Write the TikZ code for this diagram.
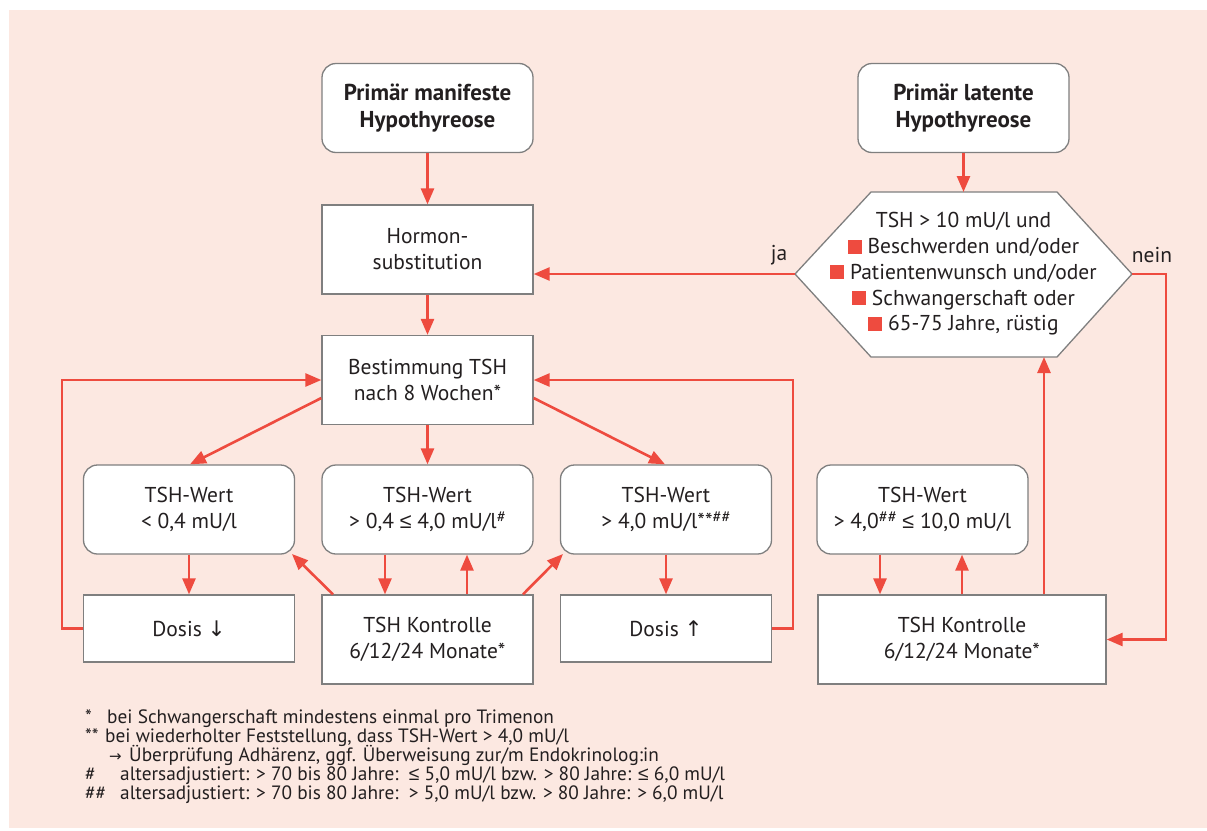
\documentclass[tikz,border=0pt]{standalone}
\usepackage{fontspec}
\setmainfont{PT Sans}
\newfontfamily\symfont{Liberation Sans}
\newfontfamily\arrfont{DejaVu Sans}
\newcommand{\mle}{{\symfont ≤}}
\newcommand{\mdown}{{\arrfont ↓}}
\newcommand{\mup}{{\arrfont ↑}}
\newcommand{\mright}{{\arrfont\fontsize{15}{15}\selectfont →}}
\newcommand{\hsup}[1]{\raisebox{6pt}{\fontsize{16.5}{16.5}\selectfont #1}}
\usetikzlibrary{arrows.meta}
\definecolor{bg}{HTML}{FCE8E1}
\definecolor{ared}{HTML}{EE4B3F}
\definecolor{bgrey}{HTML}{7F7F7F}
\definecolor{txt}{HTML}{231F20}
\newcommand{\sq}{\textcolor{ared}{\rule{14pt}{14pt}}\ }
\tikzset{
  base/.style={draw=bgrey, line width=1.3pt, fill=white, inner sep=0pt, align=center,
    text=txt, font=\fontsize{21.5}{26}\selectfont},
  rbox/.style={base, rounded corners=14pt, minimum width=211pt, minimum height=89pt},
  sbox/.style={base, minimum width=211pt, minimum height=89pt},
  arr/.style={draw=ared, line width=2.6pt, -{Triangle[length=16pt,width=13pt]}},
  lbl/.style={text=txt, font=\fontsize{21.5}{24}\selectfont, inner sep=0pt},
  note/.style={text=txt, font=\fontsize{19.3}{19}\selectfont, anchor=base west, inner sep=0pt}
}
\begin{document}
\begin{tikzpicture}[x=1pt,y=-1pt]
\useasboundingbox (0,0) rectangle (1207,830);
\fill[bg] (9,10) rectangle (1207,828);

% nodes
\node[rbox, font=\bfseries\fontsize{23}{26.5}\selectfont] (man) at (427.5,108) {Primär manifeste\\Hypothyreose};
\node[rbox, font=\bfseries\fontsize{23}{26.5}\selectfont] (lat) at (963.5,108) {Primär latente\\Hypothyreose};
\node[sbox] (hormon) at (427.5,249.5) {Hormon-\\substitution};
\node[sbox] (best) at (427.5,380) {Bestimmung TSH\\nach 8 Wochen*};
\node[rbox] (w1) at (189,509.5) {TSH-Wert\\< 0,4 mU/l};
\node[rbox] (w2) at (427.5,509.5) {TSH-Wert\\> 0,4 \mle{} 4,0 mU/l\hsup{\#}};
\node[rbox] (w3) at (666,509.5) {TSH-Wert\\> 4,0 mU/l**\hsup{\#\#}};
\node[sbox, minimum height=67pt] (d1) at (189,628.5) {Dosis \mdown};
\node[sbox] (k1) at (427.5,639.5) {TSH Kontrolle\\6/12/24 Monate*};
\node[sbox, minimum height=67pt] (d2) at (666,628.5) {Dosis \mup};
\node[rbox] (w4) at (922.5,509.5) {TSH-Wert\\> 4,0\hsup{\#\#} \mle{} 10,0 mU/l};
\node[sbox, minimum width=288pt] (k2) at (962,639.5) {TSH Kontrolle\\6/12/24 Monate*};

% hexagon
\coordinate (hW) at (795,274);
\coordinate (hE) at (1132,274);
\draw[draw=bgrey, line width=1.3pt, fill=white] (hW) -- (871,192) -- (1057,192) -- (hE) -- (1057,357) -- (871,357) -- cycle;
\coordinate (hN) at (963.5,192);
\coordinate (hS2) at (1044,357);
\node[lbl, align=center, font=\fontsize{21.5}{25.8}\selectfont] (hex) at (963.5,274) {TSH > 10 mU/l und\\\sq Beschwerden und/oder\\\sq Patientenwunsch und/oder\\\sq Schwangerschaft oder\\\sq 65-75 Jahre, rüstig};

\node[lbl] (ja) at (779,255) {ja};
\node[lbl] (nein) at (1152,255) {nein};

% connectors
\draw[arr] (man) -- (hormon);
\draw[arr] (hormon) -- (best);
\draw[arr] (lat) -- (hN);
\draw[arr] (hW) -- (hW -| hormon.east);
\coordinate (eR) at (1166,274);
\draw[arr] (hE) -- (eR) -- (eR |- k2.east) -- (k2.east);
\draw[arr] (k2.north -| hS2) -- (hS2);
\draw[arr] (w4.south -| 880,0) -- (k2.north -| 880,0);
\draw[arr] (k2.north -| 962,0) -- (w4.south -| 962,0);

\draw[arr] (best.south west |- 0,398) -- (w1.north -| 190,0);
\draw[arr] (best) -- (w2);
\draw[arr] (best.south east |- 0,398) -- (w3.north -| 665,0);
\draw[arr] (w1) -- (d1);
\draw[arr] (w3) -- (d2);
\coordinate (lL) at (62,380);
\coordinate (rL) at (793,380);
\draw[arr] (d1.west) -- (d1.west -| lL) -- (lL) -- (best.west);
\draw[arr] (d2.east) -- (d2.east -| rL) -- (rL) -- (best.east);
\draw[arr] (k1.north -| 333,0) -- (292,554);
\draw[arr] (k1.north -| 523,0) -- (563,554);
\draw[arr] (w2.south -| 385,0) -- (k1.north -| 385,0);
\draw[arr] (k1.north -| 467,0) -- (w2.south -| 467,0);

% footnotes
\node[note] (n1m) at (85,723) {*};
\node[note] (n1) at (107,723) {bei Schwangerschaft mindestens einmal pro Trimenon};
\node[note] (n2m) at (85,742) {**};
\node[note] (n2) at (105,742) {bei wiederholter Feststellung, dass TSH-Wert > 4,0 mU/l};
\node[note] (n3m) at (109,761) {\mright};
\node[note] (n3) at (129,761) {Überprüfung Adhärenz, ggf. Überweisung zur/m Endokrinolog:in};
\node[note] (n4m) at (85,780) {\#};
\node[note] (n4) at (120,780) {altersadjustiert: > 70 bis 80 Jahre:\ \ \mle{} 5,0 mU/l bzw. > 80 Jahre: \mle{} 6,0 mU/l};
\node[note] (n5m) at (85,799) {\#\#};
\node[note] (n5) at (120,799) {altersadjustiert: > 70 bis 80 Jahre:\ \ > 5,0 mU/l bzw. > 80 Jahre: > 6,0 mU/l};
\end{tikzpicture}
\end{document}
